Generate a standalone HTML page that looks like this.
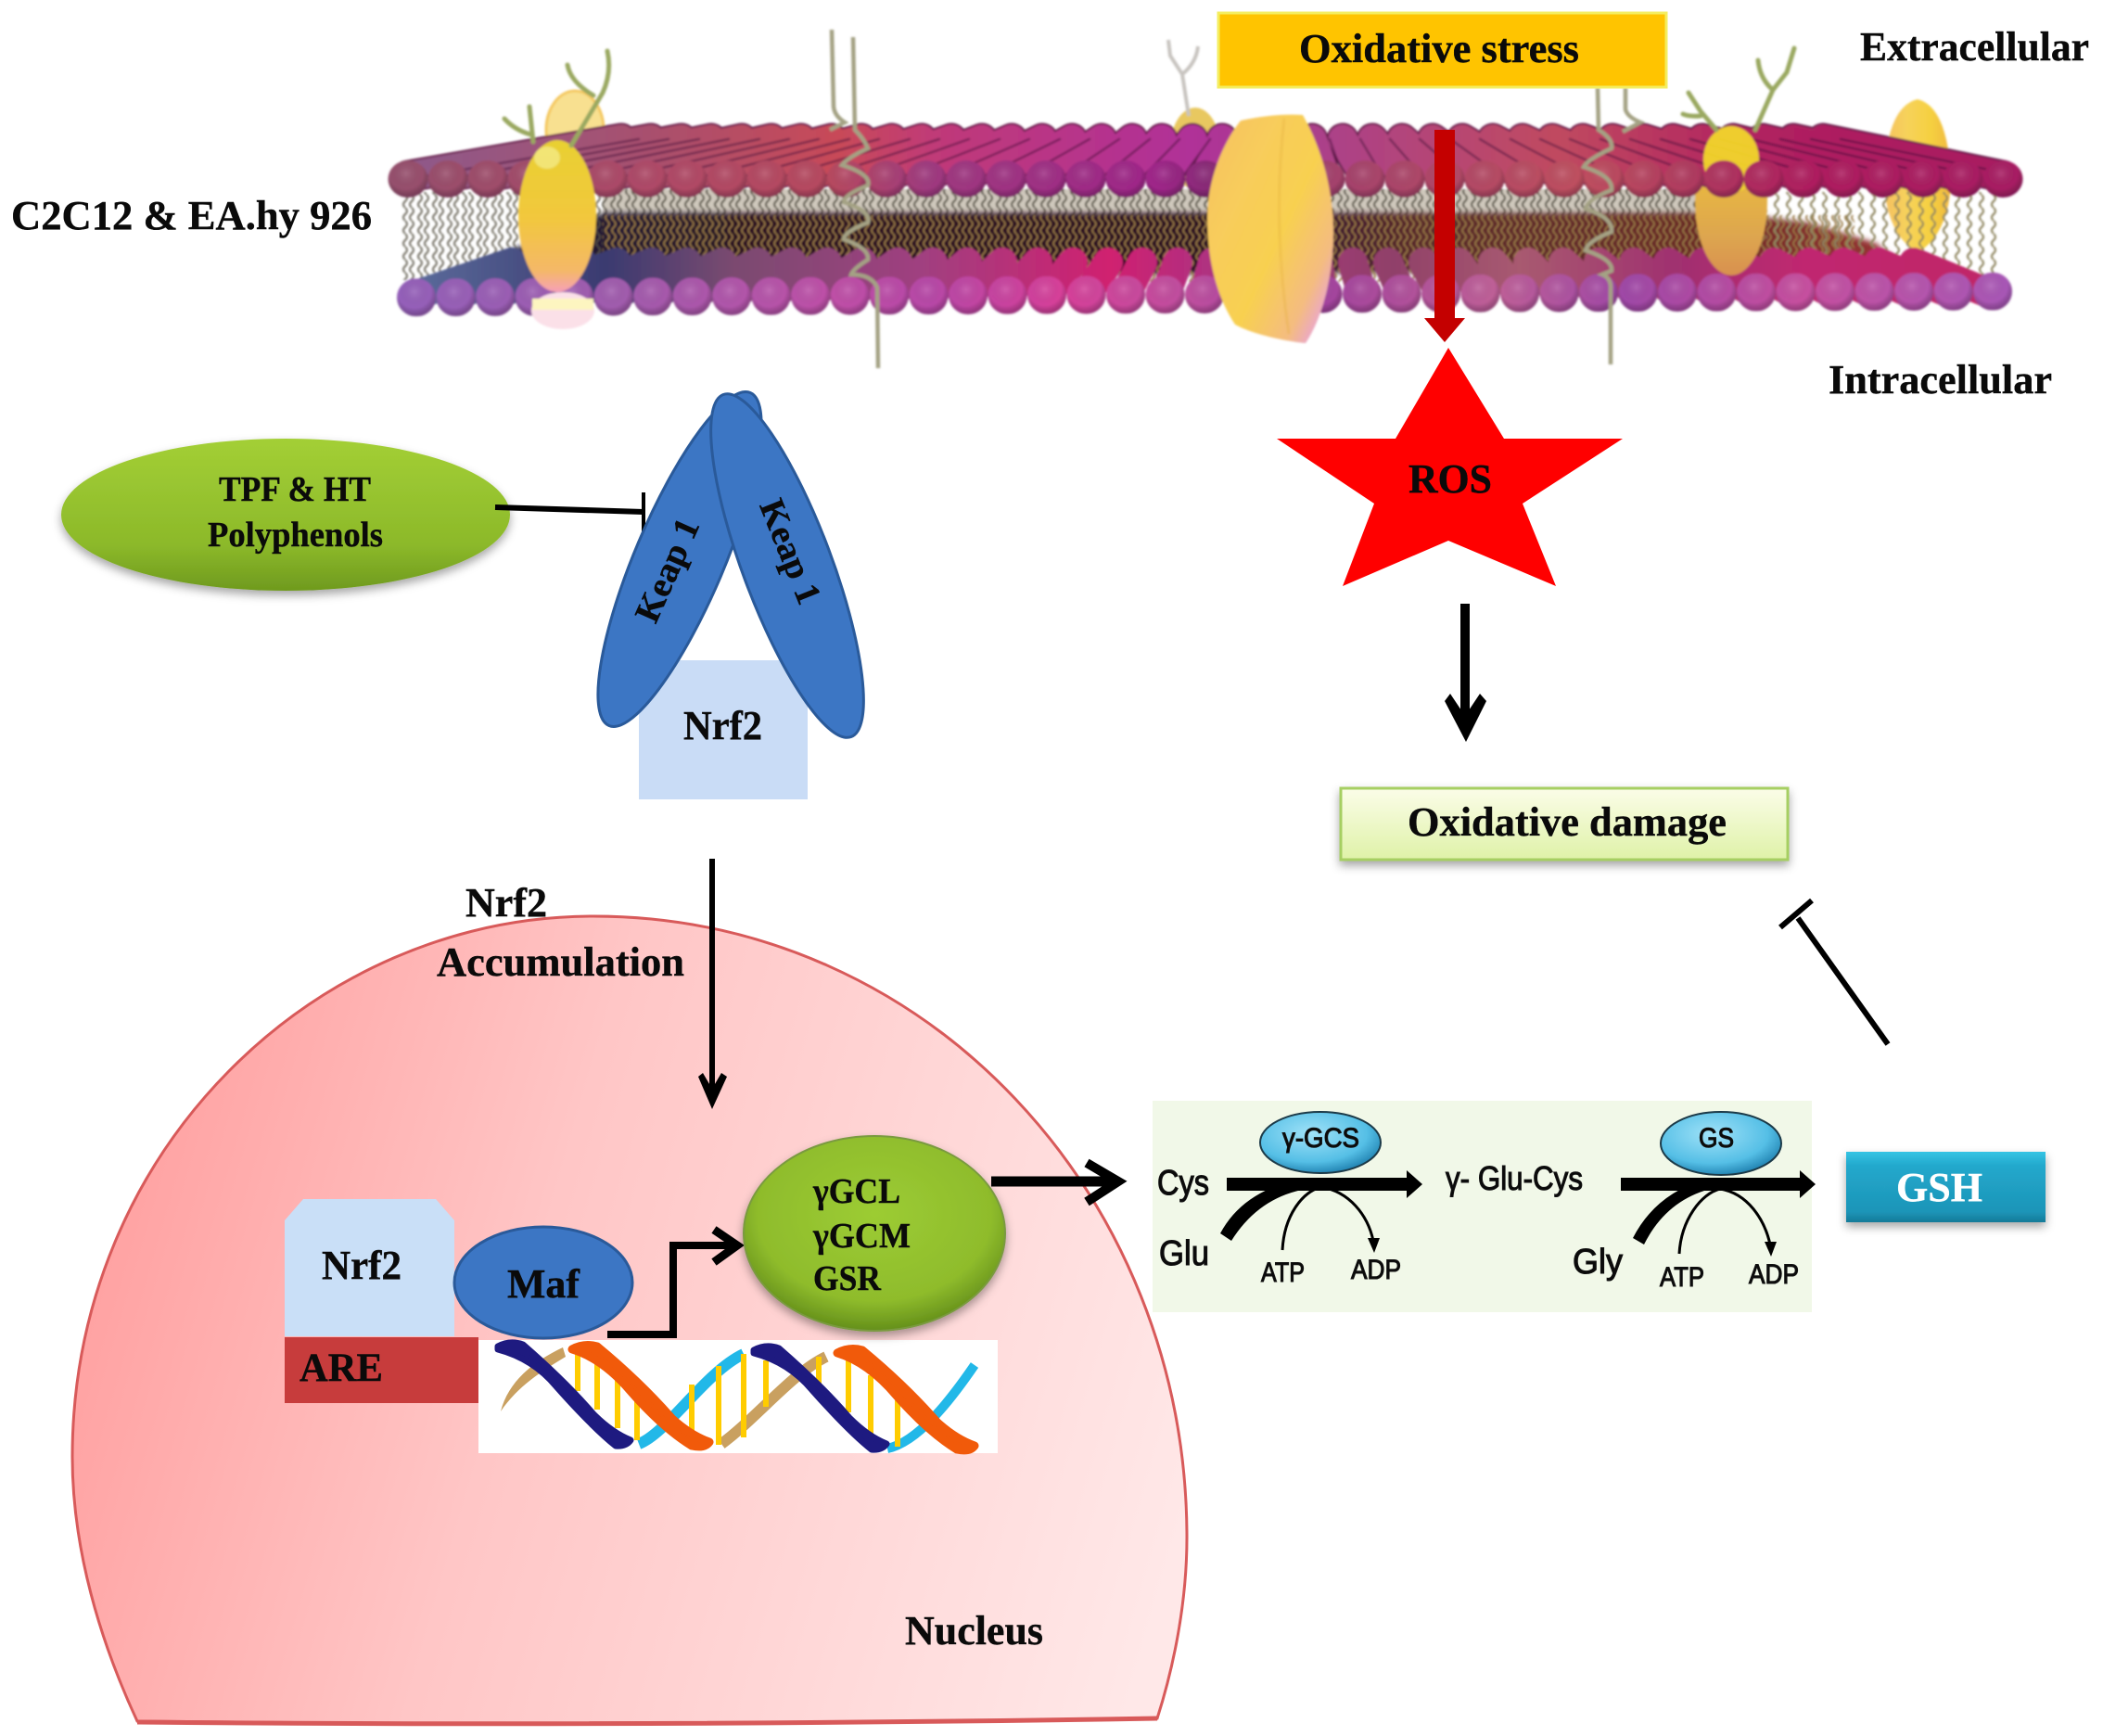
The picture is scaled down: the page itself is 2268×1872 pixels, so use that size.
<!DOCTYPE html>
<html><head><meta charset="utf-8"><style>
html,body{margin:0;padding:0;background:#fff}
svg{display:block}
text{font-family:"Liberation Serif",serif;font-weight:bold;fill:#0a0a0a;stroke:#0a0a0a;stroke-width:.4px}
.s{font-family:"Liberation Sans",sans-serif;font-weight:normal;stroke:#111;stroke-width:1.1px}
</style></head><body>
<svg xmlns="http://www.w3.org/2000/svg" width="2268" height="1872" viewBox="0 0 2268 1872">
<defs>
<linearGradient id="topH" gradientUnits="userSpaceOnUse" x1="420" y1="0" x2="2180" y2="0">
<stop offset="0" stop-color="#96506e"/><stop offset=".16" stop-color="#b04a68"/><stop offset=".27" stop-color="#b84a60"/><stop offset=".33" stop-color="#a03a80"/><stop offset=".47" stop-color="#a0268a"/><stop offset=".5" stop-color="#8a2a78"/><stop offset=".55" stop-color="#a04070"/><stop offset=".73" stop-color="#c05060"/><stop offset=".8" stop-color="#b03a60"/><stop offset=".87" stop-color="#b01e60"/><stop offset="1" stop-color="#a81e64"/>
</linearGradient>
<linearGradient id="topR" gradientUnits="userSpaceOnUse" x1="440" y1="0" x2="2160" y2="0">
<stop offset="0" stop-color="#8e5a8a"/><stop offset=".15" stop-color="#a8506e"/><stop offset=".27" stop-color="#c84a58"/><stop offset=".33" stop-color="#c03a78"/><stop offset=".49" stop-color="#b03098"/><stop offset=".55" stop-color="#a84090"/><stop offset=".72" stop-color="#c04a60"/><stop offset=".85" stop-color="#b02060"/><stop offset="1" stop-color="#a81e60"/>
</linearGradient>
<linearGradient id="botH" gradientUnits="userSpaceOnUse" x1="430" y1="0" x2="2170" y2="0">
<stop offset="0" stop-color="#9560bb"/><stop offset=".14" stop-color="#a25cae"/><stop offset=".27" stop-color="#c050a8"/><stop offset=".33" stop-color="#b848a8"/><stop offset=".41" stop-color="#d8409a"/><stop offset=".49" stop-color="#c050a0"/><stop offset=".56" stop-color="#a040a0"/><stop offset=".68" stop-color="#c06098"/><stop offset=".76" stop-color="#a048a8"/><stop offset=".87" stop-color="#c850a0"/><stop offset="1" stop-color="#a858b8"/>
</linearGradient>
<linearGradient id="botR" gradientUnits="userSpaceOnUse" x1="449" y1="0" x2="2149" y2="0">
<stop offset="0" stop-color="#5a6a9a"/><stop offset=".12" stop-color="#3a3a70"/><stop offset=".2" stop-color="#7a4a70"/><stop offset=".32" stop-color="#a04080"/><stop offset=".44" stop-color="#d02070"/><stop offset=".5" stop-color="#b03080"/><stop offset=".62" stop-color="#90406a"/><stop offset=".7" stop-color="#a85a70"/><stop offset=".8" stop-color="#a03070"/><stop offset=".88" stop-color="#c02870"/><stop offset="1" stop-color="#c02868"/>
</linearGradient>
<linearGradient id="dark" gradientUnits="userSpaceOnUse" x1="520" y1="0" x2="2060" y2="0">
<stop offset="0" stop-color="#1a1a40"/><stop offset=".2" stop-color="#2a1020"/><stop offset=".5" stop-color="#2a0f20"/><stop offset=".58" stop-color="#3a1530"/><stop offset=".66" stop-color="#5a2a2a"/><stop offset=".85" stop-color="#6a2a28"/><stop offset=".95" stop-color="#8a2e2e"/><stop offset="1" stop-color="#a03a3a"/>
</linearGradient>
<radialGradient id="shade" cx=".45" cy=".35" r=".65">
<stop offset="0" stop-color="#fff" stop-opacity=".14"/><stop offset=".65" stop-color="#000" stop-opacity="0"/><stop offset="1" stop-color="#301030" stop-opacity=".35"/>
</radialGradient>
<pattern id="hT" patternUnits="userSpaceOnUse" x="418.5" y="173" width="43" height="40"><ellipse cx="21.5" cy="20" rx="21.5" ry="20" fill="#fff"/></pattern>
<pattern id="hTs" patternUnits="userSpaceOnUse" x="418.5" y="173" width="43" height="40"><ellipse cx="21.5" cy="20" rx="21.5" ry="20" fill="url(#shade)"/></pattern>
<pattern id="hB" patternUnits="userSpaceOnUse" x="427.75" y="297" width="42.5" height="41"><ellipse cx="21.25" cy="20.500" rx="21" ry="20.500" fill="#fff"/></pattern>
<pattern id="hBs" patternUnits="userSpaceOnUse" x="427.75" y="297" width="42.5" height="41"><ellipse cx="21.25" cy="20.500" rx="21" ry="20.500" fill="url(#shade)"/></pattern>
<mask id="mT" maskUnits="userSpaceOnUse" x="418" y="173" width="1764" height="40"><rect x="418.5" y="173" width="1763" height="40" fill="url(#hT)"/></mask>
<mask id="mB" maskUnits="userSpaceOnUse" x="427" y="297" width="1744" height="41"><rect x="427.75" y="297" width="1742.500" height="41" fill="url(#hB)"/></mask>
<pattern id="w1" patternUnits="userSpaceOnUse" width="14" height="14"><path d="M4 0Q8 3.500 4 7Q0 10.500 4 14M11 0Q15 3.500 11 7Q7 10.500 11 14" fill="none" stroke="#9a7a46" stroke-width="1.800"/></pattern>
<pattern id="w2" patternUnits="userSpaceOnUse" width="16" height="14"><path d="M5 0Q9 3.500 5 7Q1 10.500 5 14M12 0Q16 3.500 12 7Q8 10.500 12 14" fill="none" stroke="#5a5648" stroke-width="2.200"/></pattern>
<pattern id="w3" patternUnits="userSpaceOnUse" width="13" height="14"><path d="M5 0Q9 3.500 5 7Q1 10.500 5 14" fill="none" stroke="#8f8660" stroke-width="2.200"/></pattern>
<linearGradient id="yel" x1="0" y1="0" x2="1" y2="0"><stop offset="0" stop-color="#f4c060"/><stop offset=".35" stop-color="#f7d25a"/><stop offset=".7" stop-color="#f5d040"/><stop offset="1" stop-color="#f0b840"/></linearGradient>
<linearGradient id="big" x1="0" y1="0" x2="1" y2=".85"><stop offset="0" stop-color="#f6c060"/><stop offset=".3" stop-color="#f8cc5c"/><stop offset=".6" stop-color="#f8d050"/><stop offset=".85" stop-color="#f4bc80"/><stop offset="1" stop-color="#e8a0e0"/></linearGradient>
<linearGradient id="left" x1="0" y1="0" x2="0" y2="1"><stop offset="0" stop-color="#e8d032"/><stop offset=".5" stop-color="#f2c83c"/><stop offset=".86" stop-color="#f4b868"/><stop offset="1" stop-color="#f6a0b8"/></linearGradient>
<linearGradient id="right" x1="0" y1="0" x2="0" y2="1"><stop offset="0" stop-color="#f8e020"/><stop offset=".35" stop-color="#e8b840"/><stop offset=".75" stop-color="#dda550"/><stop offset="1" stop-color="#d89050"/></linearGradient>
<linearGradient id="nuc" gradientUnits="userSpaceOnUse" x1="80" y1="1300" x2="1280" y2="1650"><stop offset="0" stop-color="#ff9f9f"/><stop offset=".4" stop-color="#ffc6c6"/><stop offset="1" stop-color="#ffe8e8"/></linearGradient>
<radialGradient id="grn" cx=".5" cy=".4" r=".62"><stop offset="0" stop-color="#9ccc33"/><stop offset=".72" stop-color="#8fbc2c"/><stop offset="1" stop-color="#5f8a18"/></radialGradient>
<linearGradient id="grn2" x1="0" y1="0" x2="0" y2="1"><stop offset="0" stop-color="#a3cf35"/><stop offset=".7" stop-color="#8cb92a"/><stop offset="1" stop-color="#6f9a1e"/></linearGradient>
<linearGradient id="dmg" x1="0" y1="0" x2="0" y2="1"><stop offset="0" stop-color="#fbfde8"/><stop offset="1" stop-color="#dff2a8"/></linearGradient>
<linearGradient id="gsh" x1="0" y1="0" x2="0" y2="1"><stop offset="0" stop-color="#35c4e4"/><stop offset=".2" stop-color="#22a8cc"/><stop offset=".85" stop-color="#1d95b8"/><stop offset="1" stop-color="#157a98"/></linearGradient>
<radialGradient id="cy" cx=".42" cy=".35" r=".72"><stop offset="0" stop-color="#a0e2f8"/><stop offset=".65" stop-color="#55bfe6"/><stop offset="1" stop-color="#1373a4"/></radialGradient>
<filter id="sh" x="-10%" y="-15%" width="120%" height="140%"><feDropShadow dx="0" dy="5" stdDeviation="5" flood-color="#000" flood-opacity=".35"/></filter>
<filter id="soft" x="-2%" y="-2%" width="104%" height="104%"><feGaussianBlur stdDeviation="1.1"/></filter>
<filter id="bl" x="-5%" y="-15%" width="110%" height="130%"><feGaussianBlur stdDeviation="3"/></filter>
<path id="trT" d="M440 190L670 150M483 190L702 150M526 190L735 150M569 190L767 150M612 190L800 150M655 190L832 150M698 190L864 150M741 190L897 150M784 190L929 150M827 190L962 150M870 190L994 150M913 190L1026 150M956 190L1059 150M999 190L1091 150M1042 190L1124 150M1085 190L1156 150M1128 190L1188 150M1171 190L1221 150M1214 190L1253 150M1257 190L1286 150M1300 190L1318 150M1343 190L1350 150M1386 190L1383 150M1429 190L1415 150M1472 190L1448 150M1515 190L1480 150M1558 190L1512 150M1601 190L1545 150M1644 190L1577 150M1687 190L1610 150M1730 190L1642 150M1773 190L1674 150M1816 190L1707 150M1859 190L1739 150M1902 190L1772 150M1945 190L1804 150M1988 190L1836 150M2031 190L1869 150M2074 190L1901 150M2117 190L1934 150M2160 190L1966 150" fill="none" stroke-linecap="round"/>
<path id="navy" d="M537 1452Q550 1445 564 1450Q610 1490 640 1525Q660 1545 680 1553Q675 1560 664 1559Q640 1540 600 1495Q575 1465 537 1455Z" fill="#1e1a80" stroke="#1e1a80" stroke-width="7" stroke-linejoin="round"/>
<path id="oran" d="M617 1455Q630 1448 644 1452Q690 1490 725 1530Q745 1548 765 1555Q760 1562 746 1559Q715 1540 680 1500Q650 1465 617 1455Z" fill="#f15a0a" stroke="#f15a0a" stroke-width="9" stroke-linejoin="round"/>
</defs>
<rect width="2268" height="1872" fill="#fff"/>

<g filter="url(#soft)">
<!-- back proteins -->
<ellipse cx="620" cy="140" rx="31" ry="42" fill="#f8e090" stroke="#f4c860" stroke-width="3"/>
<ellipse cx="1289" cy="160" rx="27" ry="44" fill="#e8c860"/>
<path d="M2032 190Q2035 115 2068 107Q2100 115 2104 190Q2104 250 2068 273Q2032 250 2032 190Z" fill="url(#yel)"/>
<!-- tails -->
<rect x="650" y="204" width="1210" height="32" fill="#cfc8bc"/>
<rect x="650" y="204" width="1210" height="34" fill="url(#w2)"/>
<polygon points="470,302 650,230 1870,230 1950,240 2023,262 2056,290" fill="url(#dark)" filter="url(#bl)"/>
<rect x="432" y="207" width="218" height="95" fill="url(#w2)" opacity=".8"/>
<rect x="650" y="232" width="1350" height="72" fill="url(#w1)"/>
<rect x="1905" y="207" width="248" height="95" fill="url(#w3)"/>
<!-- lower surface -->
<path d="M449 318L552 283M492 318L590 283M534 318L628 283M577 318L665 283M619 318L703 283M662 318L741 283M704 318L779 283M747 318L817 283M789 318L854 283M832 318L892 283M874 318L930 283M917 318L968 283M959 318L1006 283M1002 318L1043 283M1044 318L1081 283M1087 318L1119 283M1129 318L1157 283M1172 318L1195 283M1214 318L1232 283M1257 318L1270 283M1299 318L1308 283M1342 318L1346 283M1384 318L1384 283M1427 318L1421 283M1469 318L1459 283M1512 318L1497 283M1554 318L1535 283M1597 318L1573 283M1639 318L1610 283M1682 318L1648 283M1724 318L1686 283M1767 318L1724 283M1809 318L1762 283M1852 318L1799 283M1894 318L1837 283M1937 318L1875 283M1979 318L1913 283M2022 318L1951 283M2064 318L1988 283M2107 318L2026 283M2149 318L2064 283" fill="none" stroke="url(#botR)" stroke-width="32" stroke-linecap="round"/>
<g transform="rotate(-.22 1300 318)">
<rect x="427.75" y="297" width="1742.500" height="41" fill="url(#botH)" mask="url(#mB)"/>
<rect x="427.75" y="297" width="1742.500" height="41" fill="url(#hBs)"/>
</g>
<!-- right protein -->
<ellipse cx="1867" cy="217" rx="39" ry="80" fill="url(#right)"/>
<!-- upper surface -->
<use href="#trT" stroke="#6a2050" stroke-width="35"/>
<use href="#trT" stroke="url(#topR)" stroke-width="31"/>
<use href="#trT" transform="translate(19 0)" stroke="#4e1440" stroke-width="2.500" opacity=".55"/>
<ellipse cx="1867" cy="172" rx="30" ry="36" fill="#f2d62a" opacity=".95"/>
<rect x="418.5" y="173" width="1763" height="40" fill="url(#topH)" mask="url(#mT)"/>
<rect x="418.5" y="173" width="1763" height="40" fill="url(#hTs)"/>
<!-- left protein -->
<ellipse cx="601" cy="233" rx="42" ry="82" fill="url(#left)"/>
<ellipse cx="590" cy="170" rx="14" ry="12" fill="#f5ee90" opacity=".7"/>
<ellipse cx="607" cy="335" rx="34" ry="20" fill="#fbe0e8"/>
<rect x="574" y="322" width="66" height="12" fill="#fdf5c0"/>
<!-- big protein -->
<path d="M1338 130Q1375 122 1405 124C1428 165 1438 210 1438 250C1438 300 1425 345 1408 370C1385 368 1350 360 1332 350C1312 320 1302 280 1302 235C1302 195 1318 155 1338 130Z" fill="url(#big)"/>
<path d="M1385 128Q1372 240 1390 360" fill="none" stroke="#e6b040" stroke-width="3" opacity=".35"/>
<!-- antennae -->
<g fill="none" stroke="#9aa860" stroke-width="5" stroke-linecap="round" stroke-linejoin="round">
<path d="M616 157L650 100Q660 78 655 55M612 70Q615 88 640 103"/>
<path d="M575 153L571 115M544 128Q555 140 572 145"/>
<path d="M1893 140L1912 97L1927 78L1935 52M1896 65Q1898 85 1912 97"/>
<path d="M1851 140L1834 120L1821 100M1815 123Q1822 126 1834 125"/>
</g>
<path d="M1282 125L1275 80L1262 60L1260 43M1292 50Q1290 68 1275 80" fill="none" stroke="#c8c4c0" stroke-width="4"/>
<!-- helices -->
<g fill="none" stroke="#a4a284" stroke-width="4.500">
<path d="M897 32L899 115Q900 125 911 132L895 140"/>
<path d="M920 40L922 140Q932 150 936 160Q914 170 908 178Q940 188 936 200Q910 210 910 218Q940 228 936 240Q910 250 910 258Q938 268 936 280Q920 290 918 296Q940 296 946 310L947 397"/>
<path d="M1723 95L1724 140Q1740 150 1738 160Q1712 172 1708 180Q1740 190 1738 205Q1712 215 1710 225Q1740 235 1738 250Q1712 260 1710 270Q1740 280 1738 292L1728 296Q1738 300 1737 312L1737 393"/>
<path d="M1753 95L1753 118Q1755 126 1769 132L1750 142"/>
</g>
</g>

<!-- top labels -->
<rect x="1314" y="14" width="483" height="80" fill="#ffc400" stroke="#f4ee60" stroke-width="3"/>
<text x="1401" y="67" font-size="44" textLength="302" lengthAdjust="spacingAndGlyphs">Oxidative stress</text>
<text x="2006" y="65" font-size="44" textLength="247" lengthAdjust="spacingAndGlyphs">Extracellular</text>
<text x="12" y="247" font-size="44" textLength="389" lengthAdjust="spacingAndGlyphs">C2C12 &amp; EA.hy 926</text>
<text x="1972" y="424" font-size="44" textLength="241" lengthAdjust="spacingAndGlyphs">Intracellular</text>

<!-- red arrow -->
<rect x="1547" y="140" width="22" height="205" fill="#c40000"/>
<polygon points="1536,343 1580,343 1558,369" fill="#c40000"/>

<!-- star -->
<polygon points="1562,375 1622,473 1750,473 1642,543 1678,632 1562,583 1448,632 1482,543 1377,473 1505,473" fill="#ff0000"/>
<text x="1519" y="531" font-size="44" textLength="90" lengthAdjust="spacingAndGlyphs">ROS</text>

<!-- arrow to damage -->
<path d="M1580 651V785" stroke="#000" stroke-width="10" fill="none"/>
<polygon points="1558,756 1564,748 1580,772 1596,748 1603,756 1581,800"/>

<rect x="1446" y="850" width="482" height="77" fill="url(#dmg)" stroke="#a6cf62" stroke-width="3" filter="url(#sh)"/>
<text x="1518" y="901" font-size="44" textLength="344" lengthAdjust="spacingAndGlyphs">Oxidative damage</text>

<!-- GSH inhibit -->
<path d="M2036 1126L1939 990" stroke="#000" stroke-width="6" fill="none"/>
<path d="M1920 1000L1954 971" stroke="#000" stroke-width="6" fill="none"/>

<!-- TPF -->
<ellipse cx="308" cy="555" rx="242" ry="82" fill="url(#grn2)" filter="url(#sh)"/>
<text x="236" y="540" font-size="38" textLength="164" lengthAdjust="spacingAndGlyphs">TPF &amp; HT</text>
<text x="224" y="589" font-size="38" textLength="189" lengthAdjust="spacingAndGlyphs">Polyphenols</text>
<path d="M534 547L694 552" stroke="#000" stroke-width="6" fill="none"/>
<path d="M694 531V576" stroke="#000" stroke-width="4" fill="none"/>

<!-- Keap / Nrf2 -->
<rect x="689" y="712" width="182" height="150" fill="#c9dcf6"/>
<text x="737" y="797" font-size="44" textLength="85" lengthAdjust="spacingAndGlyphs">Nrf2</text>
<ellipse cx="733" cy="603" rx="48" ry="195" transform="rotate(23 733 603)" fill="#3c76c4" stroke="#2a5a9a" stroke-width="3"/>
<ellipse cx="849" cy="610" rx="48" ry="197" transform="rotate(-20.500 849 610)" fill="#3c76c4" stroke="#2a5a9a" stroke-width="3"/>
<text transform="translate(720 615) rotate(-66)" y="12" text-anchor="middle" font-size="38" textLength="118" lengthAdjust="spacingAndGlyphs">Keap 1</text>
<text transform="translate(852 595) rotate(68)" y="12" text-anchor="middle" font-size="38" textLength="118" lengthAdjust="spacingAndGlyphs">Keap 1</text>

<!-- nucleus -->
<path d="M148 1856C108 1770 78 1670 78 1571C78 1240 340 988 640 988C1000 988 1280 1290 1280 1658C1280 1730 1265 1800 1248 1853Q700 1862 148 1856Z" fill="url(#nuc)" stroke="#d85a5a" stroke-width="3"/>
<path d="M148 1857Q700 1862 1248 1853" fill="none" stroke="#d85a5a" stroke-width="5"/>
<text x="502" y="988" font-size="44" textLength="88" lengthAdjust="spacingAndGlyphs">Nrf2</text>
<text x="471" y="1052" font-size="44" textLength="267" lengthAdjust="spacingAndGlyphs">Accumulation</text>
<text x="976" y="1773" font-size="44" textLength="149" lengthAdjust="spacingAndGlyphs">Nucleus</text>

<path d="M768 926V1180" stroke="#000" stroke-width="6" fill="none"/>
<polygon points="753,1161 758,1157 768,1174 778,1157 784,1161 768,1196"/>

<!-- Nrf2 / ARE / Maf -->
<polygon points="327,1293 470,1293 490,1316 490,1441 307,1441 307,1316" fill="#c9dff7"/>
<text x="347" y="1379" font-size="44" textLength="86" lengthAdjust="spacingAndGlyphs">Nrf2</text>
<rect x="307" y="1442" width="209" height="71" fill="#c73c3c"/>
<text x="323" y="1489" font-size="43" textLength="90" lengthAdjust="spacingAndGlyphs">ARE</text>
<ellipse cx="586" cy="1383" rx="96" ry="60" fill="#3c76c4" stroke="#2a5a9a" stroke-width="3"/>
<text x="547" y="1399" font-size="44" textLength="78" lengthAdjust="spacingAndGlyphs">Maf</text>

<!-- DNA -->
<rect x="516" y="1445" width="560" height="122" fill="#fff"/>
<g fill="none">
<path d="M540 1522C548 1490 575 1468 607 1453L610 1463C585 1478 558 1495 540 1522Z" fill="#c9a060"/>
<path d="M778 1557C815 1530 855 1480 891 1463" stroke="#c9a060" stroke-width="12"/>
<path d="M689 1557C720 1545 760 1480 802 1460" stroke="#22b8e8" stroke-width="12"/>
<path d="M957 1562C990 1555 1025 1510 1051 1472" stroke="#22b8e8" stroke-width="10"/>
<g stroke="#ffcc00" stroke-width="6">
<path d="M623 1457V1500M644 1467V1520M666 1487V1540M687 1507V1553M746 1493V1547M775 1473V1558M802 1460V1550M826 1467V1517M883 1463V1493M915 1460V1523M939 1483V1547M968 1510V1560"/>
</g>
</g>
<use href="#navy"/>
<use href="#oran"/>
<use href="#navy" transform="translate(276 4)"/>
<use href="#oran" transform="translate(286 4)"/>

<!-- bent arrow -->
<path d="M655 1439H726V1343H790" fill="none" stroke="#000" stroke-width="8"/>
<path d="M770 1326L795 1343L770 1361" fill="none" stroke="#000" stroke-width="9"/>

<!-- green enzyme -->
<ellipse cx="943" cy="1330" rx="141" ry="105" fill="url(#grn)" stroke="#7a9a40" stroke-width="2" filter="url(#sh)"/>
<text x="877" y="1297" font-size="38" textLength="94" lengthAdjust="spacingAndGlyphs">γGCL</text>
<text x="877" y="1345" font-size="38" textLength="105" lengthAdjust="spacingAndGlyphs">γGCM</text>
<text x="877" y="1391" font-size="38" textLength="73" lengthAdjust="spacingAndGlyphs">GSR</text>

<path d="M1069 1274H1202" stroke="#000" stroke-width="11" fill="none"/>
<path d="M1172 1254L1206 1274L1172 1296" stroke="#000" stroke-width="10" fill="none"/>

<!-- pathway panel -->
<rect x="1243" y="1187" width="711" height="228" fill="#f1f8e8"/>
<ellipse cx="1424" cy="1232" rx="65" ry="33" fill="url(#cy)" stroke="#1c3a48" stroke-width="2"/>
<ellipse cx="1856" cy="1233" rx="65" ry="34" fill="url(#cy)" stroke="#1c3a48" stroke-width="2"/>
<text class="s" x="1383" y="1237" font-size="30" textLength="83" lengthAdjust="spacingAndGlyphs">γ-GCS</text>
<text class="s" x="1832" y="1237" font-size="30" textLength="38" lengthAdjust="spacingAndGlyphs">GS</text>
<rect x="1323" y="1270" width="195" height="14"/>
<polygon points="1517,1262 1534,1277 1517,1292"/>
<rect x="1748" y="1270" width="194" height="14"/>
<polygon points="1941,1262 1958,1277 1941,1292"/>
<path d="M1316 1330Q1340 1285 1400 1272L1400 1284Q1355 1295 1328 1338Z"/>
<path d="M1761 1335Q1785 1288 1838 1272L1838 1284Q1795 1298 1773 1342Z"/>
<path d="M1383 1348C1385 1310 1405 1285 1425 1280C1455 1285 1475 1310 1481 1338" fill="none" stroke="#000" stroke-width="3"/>
<polygon points="1475,1335 1488,1335 1482,1351"/>
<path d="M1811 1352C1813 1315 1835 1287 1855 1282C1885 1287 1903 1315 1909 1342" fill="none" stroke="#000" stroke-width="3"/>
<polygon points="1903,1339 1916,1339 1910,1355"/>
<text class="s" x="1248" y="1288" font-size="38" textLength="56" lengthAdjust="spacingAndGlyphs">Cys</text>
<text class="s" x="1250" y="1364" font-size="38" textLength="54" lengthAdjust="spacingAndGlyphs">Glu</text>
<text class="s" x="1360" y="1382" font-size="30" textLength="47" lengthAdjust="spacingAndGlyphs">ATP</text>
<text class="s" x="1457" y="1379" font-size="30" textLength="54" lengthAdjust="spacingAndGlyphs">ADP</text>
<text class="s" x="1559" y="1283" font-size="36" textLength="148" lengthAdjust="spacingAndGlyphs">γ- Glu-Cys</text>
<text class="s" x="1696" y="1373" font-size="38" textLength="54" lengthAdjust="spacingAndGlyphs">Gly</text>
<text class="s" x="1790" y="1387" font-size="30" textLength="48" lengthAdjust="spacingAndGlyphs">ATP</text>
<text class="s" x="1886" y="1384" font-size="30" textLength="54" lengthAdjust="spacingAndGlyphs">ADP</text>

<!-- GSH -->
<rect x="1991" y="1242" width="215" height="76" fill="url(#gsh)" filter="url(#sh)"/>
<text x="2045" y="1295" font-size="44" textLength="93" lengthAdjust="spacingAndGlyphs" style="fill:#fff;stroke:#fff">GSH</text>
</svg>
</body></html>
